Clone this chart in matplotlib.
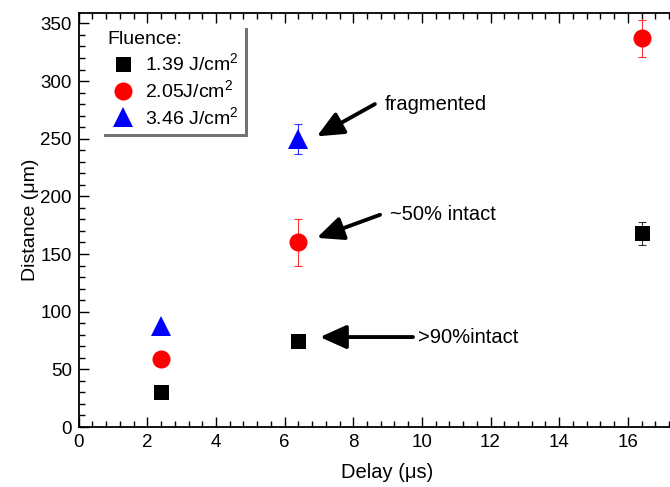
import matplotlib
matplotlib.use("Agg")
import matplotlib.pyplot as plt
from matplotlib.ticker import MultipleLocator

plt.rcParams['font.family'] = ['Liberation Sans', 'DejaVu Sans']
plt.rcParams['mathtext.fontset'] = 'custom'
plt.rcParams['mathtext.rm'] = 'Liberation Sans'
plt.rcParams['mathtext.it'] = 'Liberation Sans'

# Data
delay_139 = [2.4, 6.4, 16.4]
dist_139 = [30, 75, 168]
err_139 = [0, 4, 10]

delay_205 = [2.4, 6.4, 16.4]
dist_205 = [59, 160, 337]
err_205 = [0, 20, 16]

delay_346 = [2.4, 6.4]
dist_346 = [88, 250]
err_346 = [0, 13]

labels = ["1.39 J/cm$^{2}$", "2.05J/cm$^{2}$", "3.46 J/cm$^{2}$"]

fig = plt.figure(figsize=(6.7, 4.87), dpi=100)
ax = fig.add_axes([78.7/670, 60/487, 616/670, 414/487])

series = [
    (delay_139, dist_139, err_139, 's', 'black', 10.8, labels[0]),
    (delay_205, dist_205, err_205, 'o', 'red', 13, labels[1]),
    (delay_346, dist_346, err_346, '^', 'blue', 14.5, labels[2]),
]
handles = []
for x, y, e, m, c, ms, lab in series:
    ax.errorbar(x, y, yerr=e, fmt='none', ecolor=c, elinewidth=0.8,
                capsize=3, capthick=0.8, alpha=0.8, zorder=2)
    h, = ax.plot(x, y, linestyle='none', marker=m, color=c, markersize=ms,
                 markeredgewidth=0, label=lab, zorder=3)
    handles.append(h)

ax.set_xlim(0, 17.95)
ax.set_ylim(0, 359)
ax.xaxis.set_major_locator(MultipleLocator(2))
ax.xaxis.set_minor_locator(MultipleLocator(0.4))
ax.yaxis.set_major_locator(MultipleLocator(50))
ax.yaxis.set_minor_locator(MultipleLocator(10))
ax.tick_params(which='both', direction='in', top=True, right=True, labelsize=13.5)
ax.tick_params(which='major', length=7, width=1, pad=5)
ax.tick_params(which='minor', length=4, width=1)
for s in ax.spines.values():
    s.set_linewidth(1.3)

ax.set_xlabel('Delay (\u03bcs)', fontsize=14.5, labelpad=9)
ax.set_ylabel('Distance (\u03bcm)', fontsize=14, labelpad=1)

leg = ax.legend(handles=handles, title='Fluence:', loc='upper left',
                bbox_to_anchor=(23/616, 1.0 - 12/414), borderaxespad=0, fontsize=14,
                title_fontsize=14, frameon=True, fancybox=False,
                shadow={'color': '0.45', 'alpha': 1}, handletextpad=0.35,
                handlelength=1.6, labelspacing=0.25, borderpad=0.3)
leg._legend_box.align = 'left'
leg.get_frame().set_edgecolor('white')
leg.get_frame().set_linewidth(0)

arrow = dict(arrowstyle='-|>,head_length=0.8,head_width=0.36', lw=2.8,
             color='black', mutation_scale=20, shrinkA=0, shrinkB=0)
ax.annotate('', xy=(6.94, 252), xytext=(8.63, 280), arrowprops=arrow)
ax.text(8.93, 280, 'fragmented', fontsize=14.5, va='center', ha='left')
ax.annotate('', xy=(6.94, 164), xytext=(8.78, 184), arrowprops=arrow)
ax.text(9.07, 184, '~50% intact', fontsize=14.5, va='center', ha='left')
ax.annotate('', xy=(7.03, 78), xytext=(9.74, 78), arrowprops=arrow)
ax.text(9.88, 78, '>90%intact', fontsize=14.5, va='center', ha='left')

fig.savefig('out.png', dpi=100)
